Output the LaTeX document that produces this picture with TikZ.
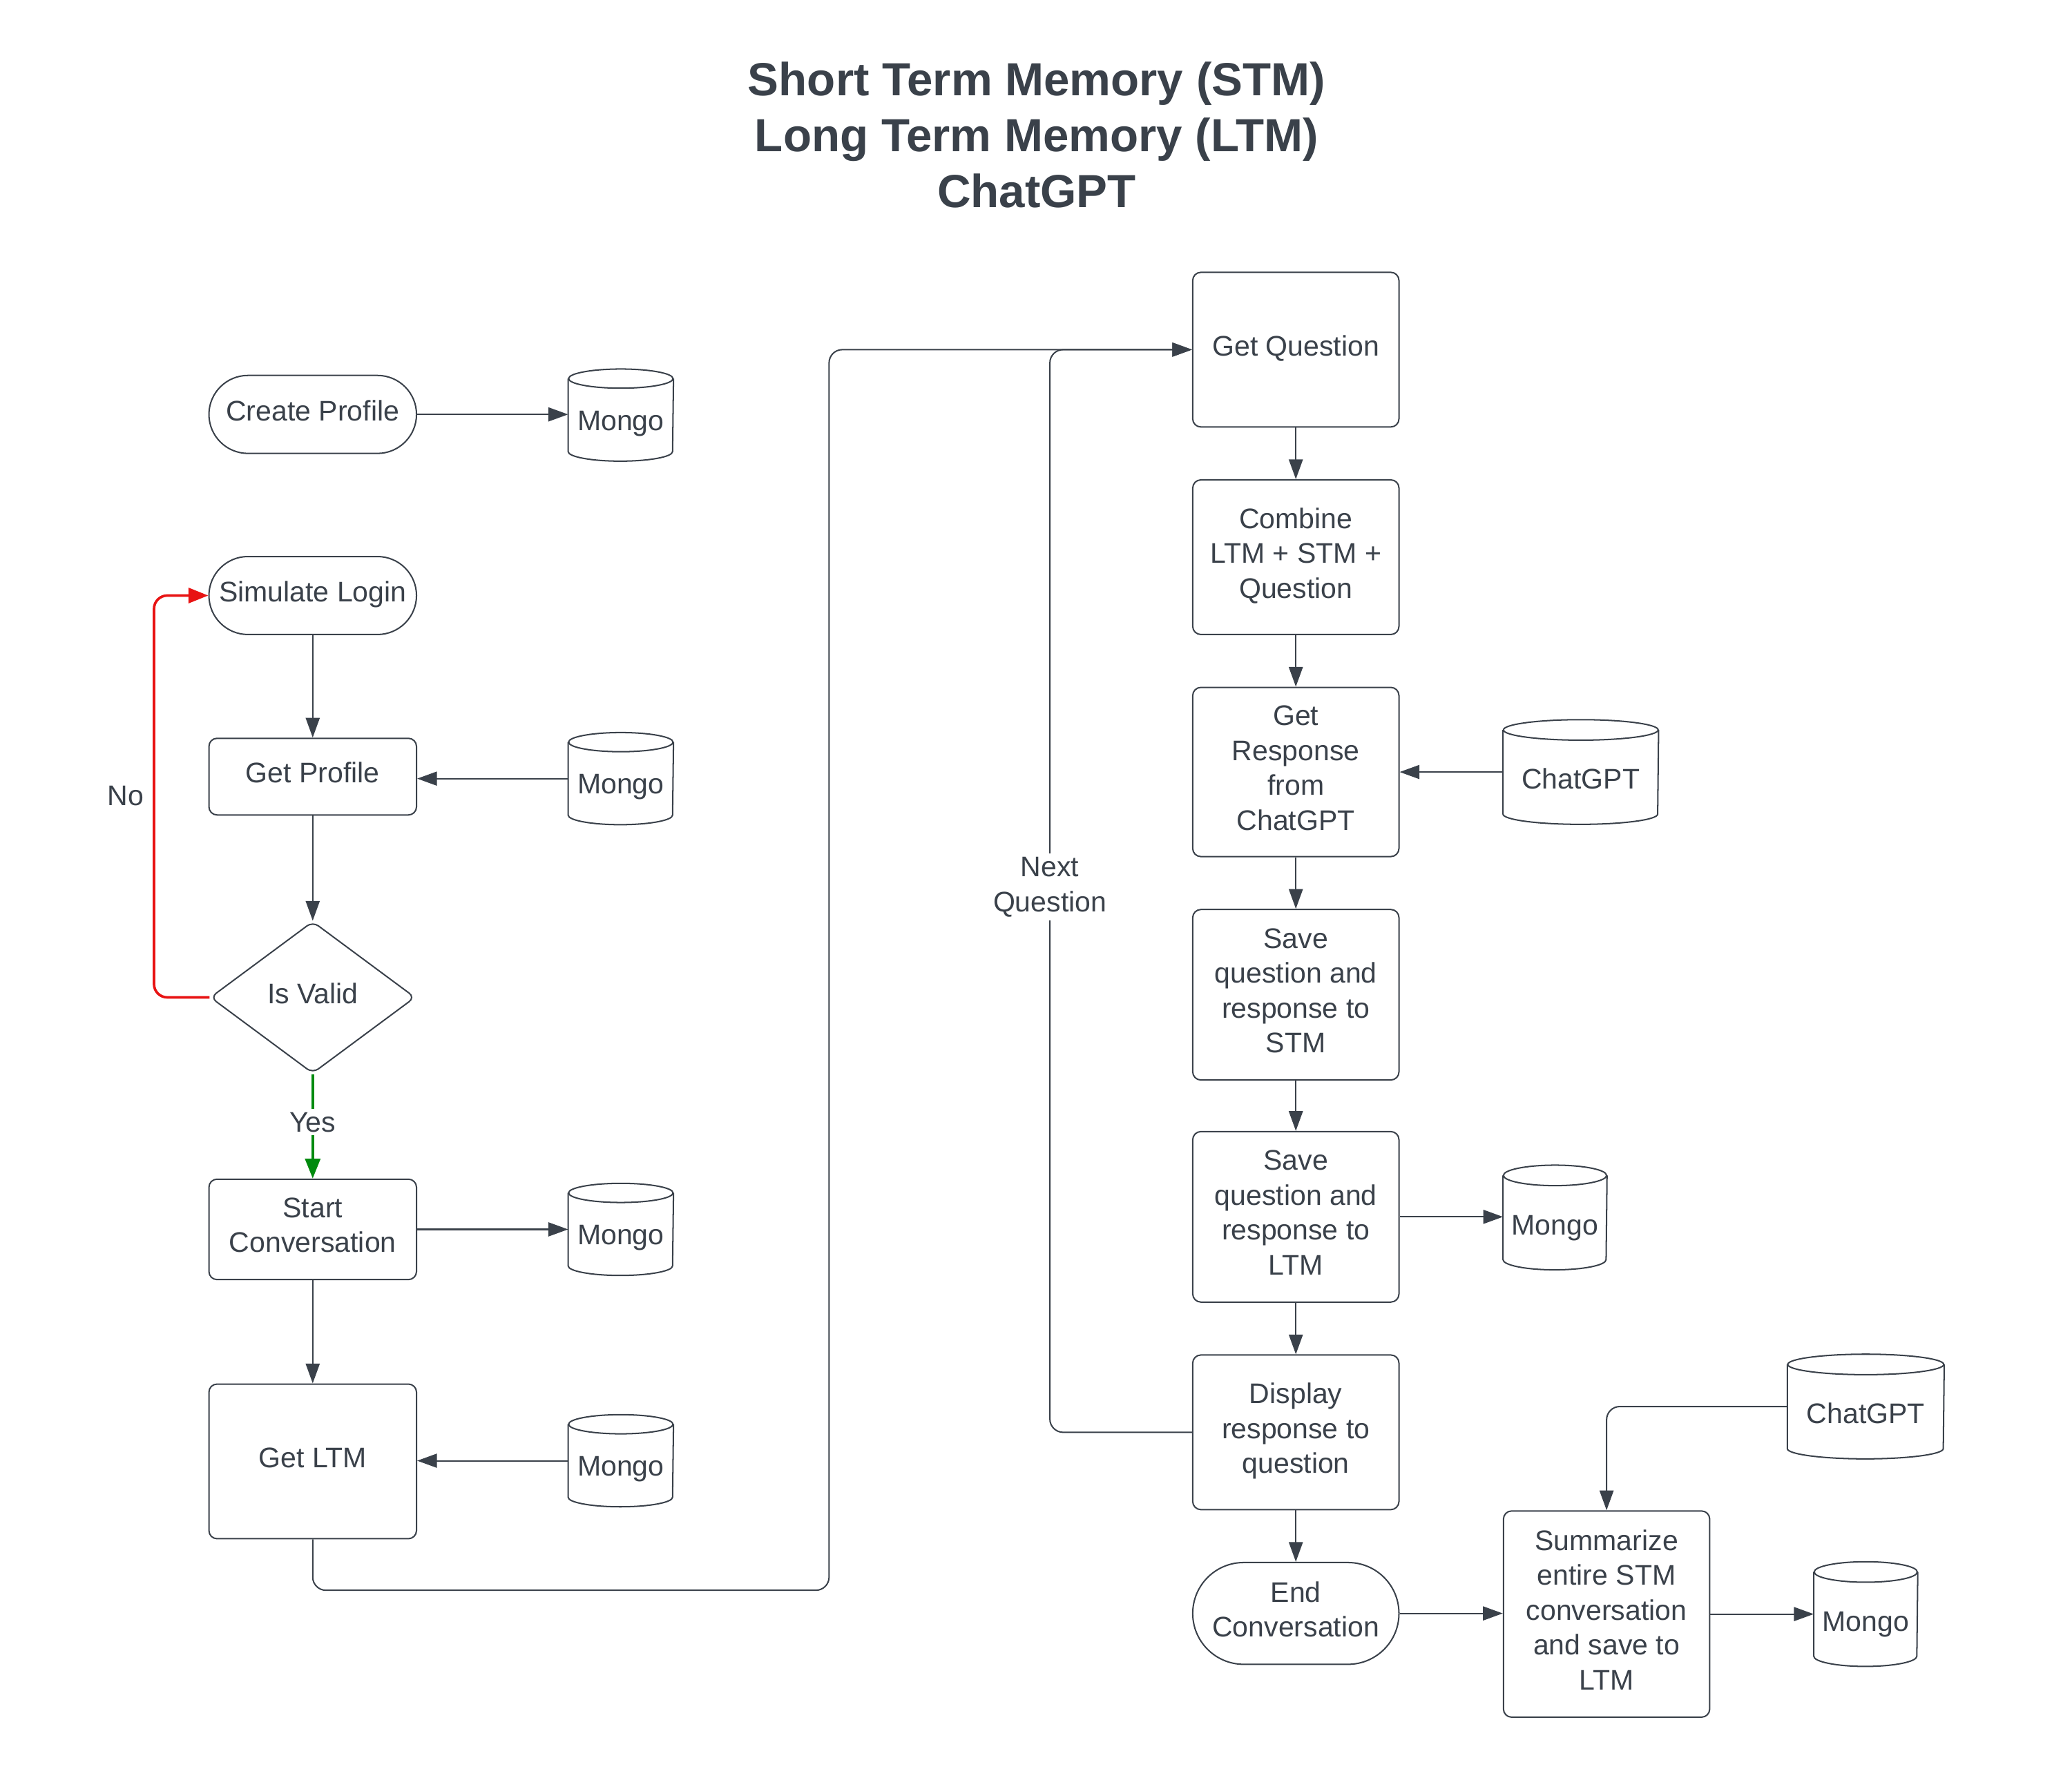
\documentclass[tikz,border=0pt]{standalone}
\usepackage{fontspec}
\setmainfont{Liberation Sans}
\usetikzlibrary{arrows.meta,shapes.geometric,calc}
\definecolor{ink}{HTML}{3A414A}
\definecolor{nored}{HTML}{E81313}
\definecolor{yesgreen}{HTML}{008A0E}
\begin{document}
\begin{tikzpicture}[x=0.02cm,y=-0.02cm,
  every node/.style={text=ink, font=\fontsize{12.2}{15}\selectfont},
  base/.style={draw=ink, line width=0.6pt, align=center, inner sep=2pt,
     execute at begin node={\rule[-3.6pt]{0pt}{12.6pt}},
     execute at end node={\rule[-3.6pt]{0pt}{12.6pt}}},
  box/.style={base, rectangle, rounded corners=3.5pt},
  term/.style={base, rectangle},
  decision/.style={base, diamond, rounded corners=3pt, inner sep=0pt},
  dbsmall/.style={rectangle, inner sep=0pt, align=center, minimum height=1.38cm,
     execute at begin node={\rule[-2.6pt]{0pt}{18.2pt}}},
  dbtall/.style={rectangle, inner sep=0pt, align=center, minimum height=1.57cm,
     execute at begin node={\rule[-2.6pt]{0pt}{20pt}}},
  conn/.style={draw=ink, line width=0.6pt, -{Triangle[length=8.5pt,width=6pt]}},
  loopconn/.style={conn, rounded corners=0.2cm},
  nolink/.style={draw=nored, line width=1.1pt, rounded corners=0.2cm, -{Triangle[length=8.5pt,width=6.5pt]}},
  yeslink/.style={draw=yesgreen, line width=1.1pt, -{Triangle[length=8.5pt,width=6.5pt]}},
  lbl/.style={fill=white, inner sep=1.5pt, align=center},
  cyl/.style={draw=ink, line width=0.6pt}
]
\fill[white] (0,0) rectangle (1567,1338);
\useasboundingbox (0,0) rectangle (1567,1338);

% title
\node[font=\bfseries\fontsize{20}{24}\selectfont, align=center] (title) at (784,102)
  {Short Term Memory (STM)\\Long Term Memory (LTM)\\ChatGPT};

% left column
\node[term, rounded corners=0.59cm, minimum width=3.14cm, minimum height=1.18cm] (cp) at (236.5,313.5) {Create Profile};
\node[term, rounded corners=0.59cm, minimum width=3.14cm, minimum height=1.18cm] (sl) at (236.5,450.5) {Simulate Login};
\node[box, minimum width=3.14cm, minimum height=1.16cm] (gp) at (236.5,587.5) {Get Profile};
\node[decision, minimum width=3.1cm, minimum height=2.3cm] (iv) at (236.5,754.5) {Is Valid};
\node[box, minimum width=3.14cm, minimum height=1.52cm] (sc) at (236.5,930) {Start\\Conversation};
\node[box, minimum width=3.14cm, minimum height=2.34cm] (gl) at (236.5,1105.5) {Get LTM};

\node[dbsmall, minimum width=1.58cm] (m1) at (469.5,314) {Mongo};
\node[dbsmall, minimum width=1.58cm] (m2) at (469.5,589) {Mongo};
\node[dbsmall, minimum width=1.58cm] (m3) at (469.5,930) {Mongo};
\node[dbsmall, minimum width=1.58cm] (m4) at (469.5,1105) {Mongo};

% right column
\node[box, minimum width=3.12cm, minimum height=2.34cm] (gq) at (980,264.5) {Get Question};
\node[box, minimum width=3.12cm, minimum height=2.34cm] (cb) at (980,421.5) {Combine\\LTM + STM +\\Question};
\node[box, minimum width=3.12cm, minimum height=2.56cm] (gr) at (980,584) {Get\\Response\\from\\ChatGPT};
\node[box, minimum width=3.12cm, minimum height=2.58cm] (ss) at (980,752.5) {Save\\question and\\response to\\STM};
\node[box, minimum width=3.12cm, minimum height=2.58cm] (sv) at (980,920.5) {Save\\question and\\response to\\LTM};
\node[box, minimum width=3.12cm, minimum height=2.34cm] (dq) at (980,1083.5) {Display\\response to\\question};
\node[term, rounded corners=0.77cm, minimum width=3.12cm, minimum height=1.54cm] (ec) at (980,1220.5) {End\\Conversation};
\node[box, minimum width=3.12cm, minimum height=3.12cm] (su) at (1215,1221) {Summarize\\entire STM\\conversation\\and save to\\LTM};

\node[dbtall, minimum width=2.34cm] (g1) at (1195.5,584) {ChatGPT};
\node[dbtall, minimum width=1.56cm] (m5) at (1176,921) {Mongo};
\node[dbtall, minimum width=2.36cm] (g2) at (1411,1064) {ChatGPT};
\node[dbtall, minimum width=1.56cm] (m6) at (1411,1221) {Mongo};

% cylinder outlines
\foreach \n/\rx/\ry in {m1/0.79cm/0.145cm, m2/0.79cm/0.145cm, m3/0.79cm/0.145cm, m4/0.79cm/0.145cm,
                        m5/0.78cm/0.155cm, m6/0.78cm/0.155cm, g1/1.17cm/0.155cm, g2/1.18cm/0.155cm} {
  \draw[cyl] ([yshift=-\ry]\n.north west) -- ([yshift=\ry]\n.south west)
     arc[start angle=180, end angle=360, x radius=\rx, y radius=\ry]
     -- ([yshift=-\ry]\n.north east);
  \draw[cyl] ([yshift=-\ry]\n.north) ellipse[x radius=\rx, y radius=\ry];
}

% connectors left
\draw[conn] (cp.east) -- (cp.east -| m1.west);
\draw[conn] (sl.south) -- (gp.north);
\draw[conn] (m2.west) -- (m2.west -| gp.east);
\draw[conn] (gp.south) -- (iv.north);
\draw[nolink] (iv.west) -- ++(-42,0) |- (sl.west);
\node (no) at (95,602) {No};
\draw[yeslink] (iv.south) -- node[lbl, pos=0.46] (yes) {Yes} (sc.north);
\draw[conn] (sc.east) -- (sc.east -| m3.west);
\draw[conn] (sc.south) -- (gl.north);
\draw[conn] (m4.west) -- (m4.west -| gl.east);

\coordinate (c1) at (627,1203);
\draw[loopconn] (gl.south) |- (c1) |- (gq.west);

% connectors right
\draw[conn] (gq.south) -- (cb.north);
\draw[conn] (cb.south) -- (gr.north);
\draw[conn] (g1.west) -- (g1.west -| gr.east);
\draw[conn] (gr.south) -- (ss.north);
\draw[conn] (ss.south) -- (sv.north);
\draw[conn] (sv.east) -- (sv.east -| m5.west);
\draw[conn] (sv.south) -- (dq.north);
\draw[conn] (dq.south) -- (ec.north);
\coordinate (c2) at (794,1083.5);
\draw[loopconn] (dq.west) -- (c2) |- (gq.west);
\node[lbl] (nq) at (794,671) {Next\\Question};
\draw[conn] (ec.east) -- (ec.east -| su.west);
\draw[conn] (su.east) -- (su.east -| m6.west);
\draw[loopconn] (g2.west) -| (su.north);
\end{tikzpicture}
\end{document}
